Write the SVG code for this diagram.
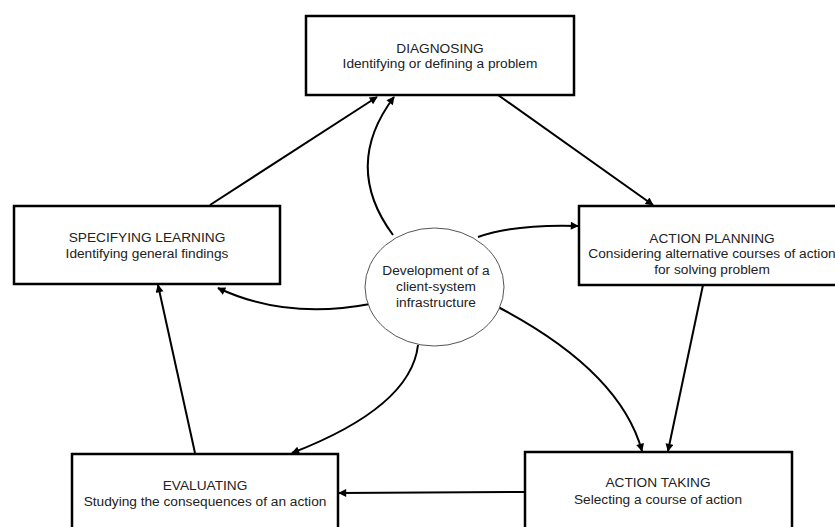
<svg xmlns="http://www.w3.org/2000/svg" width="835" height="527" viewBox="0 0 835 527">
<defs>
<marker id="ah" viewBox="0 0 10 10" refX="9" refY="5" markerWidth="10" markerHeight="8" markerUnits="userSpaceOnUse" orient="auto">
<path d="M0,0 L10,5 L0,10 z" fill="#000"/>
</marker>
<style>
.box{fill:#fff;stroke:#000;stroke-width:2.5}
.c{fill:none;stroke:#000;stroke-width:2;marker-end:url(#ah)}
text{font-family:"Liberation Sans",Arial,sans-serif;font-size:13.7px;fill:#222;text-anchor:middle}
</style>
</defs>
<rect width="835" height="527" fill="#fff"/>
<g id="connectors">
<path class="c" d="M210,205 L377,97"/>
<path class="c" d="M393,235 Q342,166 394,97"/>
<path class="c" d="M498,95 L653,205"/>
<path class="c" d="M478,237 Q515,224 578,226"/>
<path class="c" d="M370,304 Q286,320 218,288"/>
<path class="c" d="M195,453 L158,285"/>
<path class="c" d="M418,345 Q411,407 292,453"/>
<path class="c" d="M498,307 Q620,371 642,451"/>
<path class="c" d="M703,285 L668,451"/>
<path class="c" d="M525,492 L339,493"/>
</g>
<g id="diagnosing">
<rect class="box" x="306" y="16" width="268" height="79"/>
<text x="440" y="52.5">DIAGNOSING</text>
<text x="440" y="68">Identifying or defining a problem</text>
</g>
<g id="action-planning">
<rect class="box" x="579" y="206" width="270" height="79"/>
<text x="712" y="242.5">ACTION PLANNING</text>
<text x="712" y="258">Considering alternative courses of action</text>
<text x="712" y="273.5">for solving problem</text>
</g>
<g id="specifying-learning">
<rect class="box" x="14" y="206" width="266" height="78"/>
<text x="147" y="241.5">SPECIFYING LEARNING</text>
<text x="147" y="257.5">Identifying general findings</text>
</g>
<g id="infrastructure">
<ellipse cx="434.5" cy="287" rx="69.5" ry="59" fill="#fff" stroke="#555" stroke-width="1"/>
<text x="436" y="274.5">Development of a</text>
<text x="436" y="290.5">client-system</text>
<text x="436" y="306.5">infrastructure</text>
</g>
<g id="evaluating">
<rect class="box" x="72" y="454" width="266" height="90"/>
<text x="205" y="489.5">EVALUATING</text>
<text x="205" y="505.5">Studying the consequences of an action</text>
</g>
<g id="action-taking">
<rect class="box" x="525" y="452" width="267" height="92"/>
<text x="658" y="486.5">ACTION TAKING</text>
<text x="658" y="503.5">Selecting a course of action</text>
</g>
</svg>
